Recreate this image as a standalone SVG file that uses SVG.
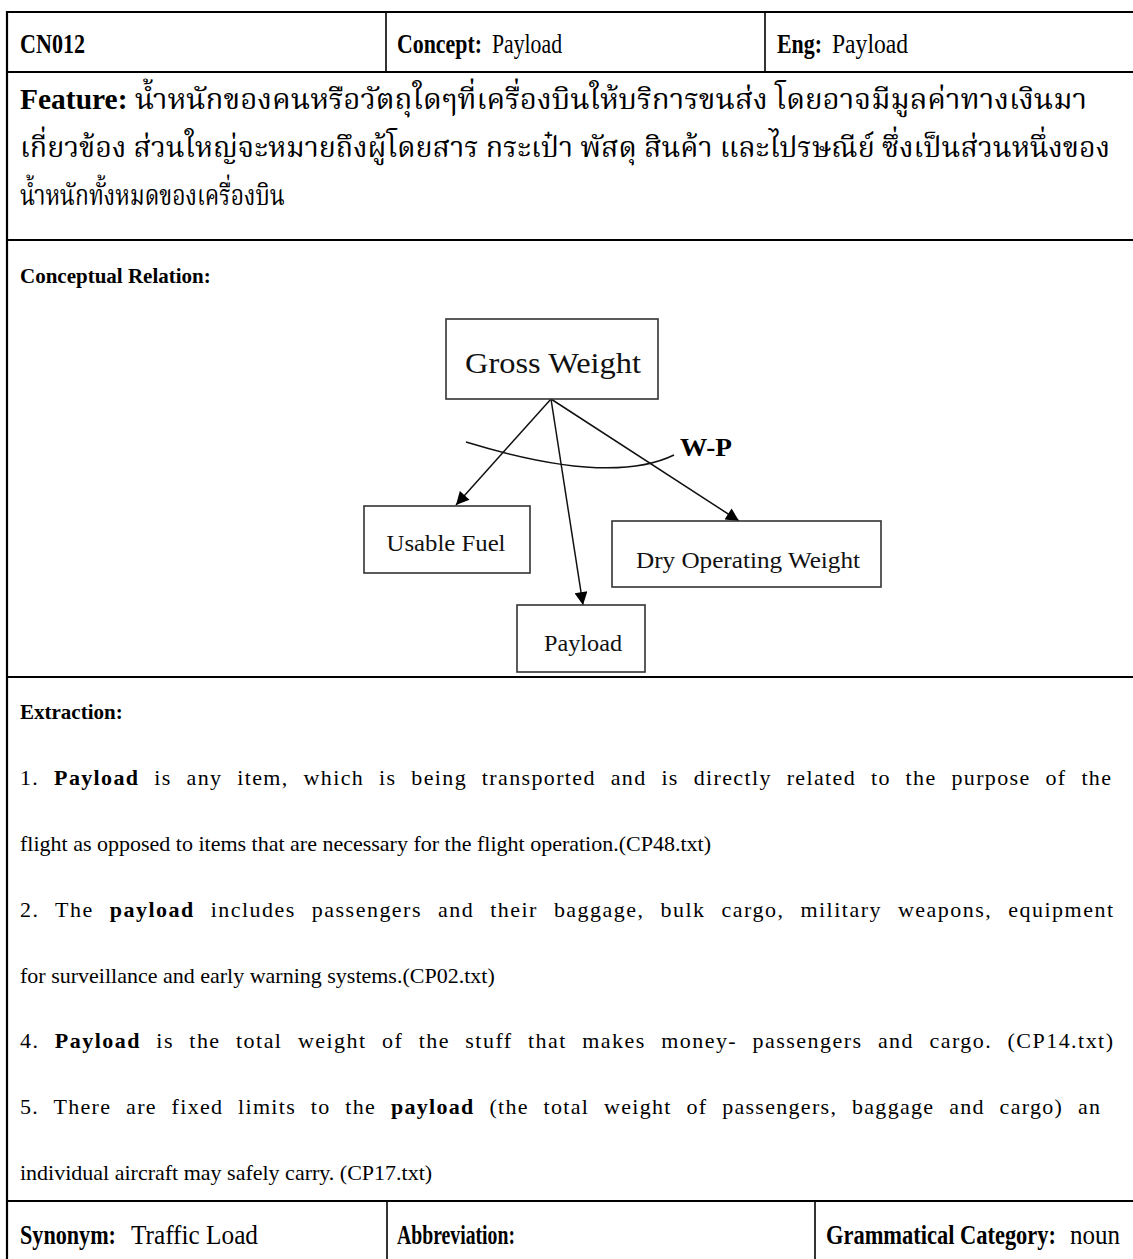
<svg xmlns="http://www.w3.org/2000/svg" width="1133" height="1259" viewBox="0 0 1133 1259">
  <defs>
    <marker id="arrowhead" viewBox="0 0 10 10" refX="10" refY="5" markerWidth="15" markerHeight="13" markerUnits="userSpaceOnUse" orient="auto">
      <path d="M0,0 L10,5 L0,10 z" fill="#000"/>
    </marker>
    <style>
      .grid { stroke: #000; stroke-width: 2.2; fill: none; }
      .divider { stroke: #000; stroke-width: 1.6; fill: none; }
      .head { font-family: "Liberation Serif", "Times New Roman", serif; font-size: 28px; fill: #000; }
      .thai { font-family: "Liberation Serif", "Noto Serif Thai", "Noto Sans Thai", serif; font-size: 29px; fill: #000; }
      .label { font-family: "Liberation Serif", "Times New Roman", serif; font-size: 21px; fill: #000; }
      .body { font-family: "Liberation Serif", "Times New Roman", serif; font-size: 22px; fill: #000; }
      .b { font-weight: bold; }
      .node rect { fill: #fff; stroke: #333; stroke-width: 1.6; }
      .node text { font-family: "Liberation Serif", "Times New Roman", serif; fill: #111; text-anchor: middle; }
      .edge { stroke: #111; stroke-width: 1.5; fill: none; }
    </style>
  </defs>

  <rect width="1133" height="1259" fill="#fff"/>

  <!-- table frame -->
  <g id="table">
    <line class="grid" x1="7" y1="12" x2="1140" y2="12"/>
    <line class="grid" x1="7" y1="11" x2="7" y2="1265"/>
    <line class="grid" x1="7" y1="72" x2="1140" y2="72"/>
    <line class="grid" x1="7" y1="240" x2="1140" y2="240"/>
    <line class="grid" x1="7" y1="677" x2="1140" y2="677"/>
    <line class="grid" x1="7" y1="1201" x2="1140" y2="1201"/>
    <line class="divider" x1="386" y1="12" x2="386" y2="72"/>
    <line class="divider" x1="765" y1="12" x2="765" y2="72"/>
    <line class="divider" x1="387" y1="1201" x2="387" y2="1265"/>
    <line class="divider" x1="815" y1="1201" x2="815" y2="1265"/>
  </g>

  <!-- header row -->
  <g id="header">
    <text class="head b" x="20" y="53" textLength="65" lengthAdjust="spacingAndGlyphs">CN012</text>
    <text class="head b" x="397" y="53" textLength="85" lengthAdjust="spacingAndGlyphs">Concept:</text>
    <text class="head" x="492" y="53" textLength="70" lengthAdjust="spacingAndGlyphs">Payload</text>
    <text class="head b" x="777" y="53" textLength="45" lengthAdjust="spacingAndGlyphs">Eng:</text>
    <text class="head" x="832" y="53" textLength="76" lengthAdjust="spacingAndGlyphs">Payload</text>
  </g>

  <!-- feature row -->
  <g id="feature">
    <text class="thai" x="20" y="109" textLength="1067" lengthAdjust="spacingAndGlyphs"><tspan class="b">Feature:</tspan> น้ำหนักของคนหรือวัตถุใดๆที่เครื่องบินให้บริการขนส่ง โดยอาจมีมูลค่าทางเงินมา</text>
    <text class="thai" x="20" y="157" textLength="1090" lengthAdjust="spacingAndGlyphs">เกี่ยวข้อง ส่วนใหญ่จะหมายถึงผู้โดยสาร กระเป๋า พัสดุ สินค้า และไปรษณีย์ ซึ่งเป็นส่วนหนึ่งของ</text>
    <text class="thai" x="20" y="205" textLength="265" lengthAdjust="spacingAndGlyphs">น้ำหนักทั้งหมดของเครื่องบิน</text>
  </g>

  <!-- conceptual relation -->
  <text class="label b" x="20" y="283">Conceptual Relation:</text>

  <g id="connectors">
    <path class="edge" d="M466,442 Q610,486 674,455"/>
    <line class="edge" x1="551" y1="399" x2="456" y2="505" marker-end="url(#arrowhead)"/>
    <line class="edge" x1="551" y1="399" x2="583" y2="605" marker-end="url(#arrowhead)"/>
    <line class="edge" x1="551" y1="399" x2="739" y2="521" marker-end="url(#arrowhead)"/>
    <text x="680" y="456" font-family="Liberation Serif, serif" font-weight="bold" font-size="25" fill="#000" textLength="52" lengthAdjust="spacingAndGlyphs">W-P</text>
  </g>

  <g id="node-gross-weight" class="node">
    <rect x="446" y="319" width="212" height="80"/>
    <text x="553" y="373" font-size="30" textLength="176" lengthAdjust="spacingAndGlyphs">Gross Weight</text>
  </g>
  <g id="node-usable-fuel" class="node">
    <rect x="364" y="506" width="166" height="67"/>
    <text x="446" y="551" font-size="24" textLength="119" lengthAdjust="spacingAndGlyphs">Usable Fuel</text>
  </g>
  <g id="node-payload" class="node">
    <rect x="517" y="605" width="128" height="67"/>
    <text x="583" y="651" font-size="24" textLength="78" lengthAdjust="spacingAndGlyphs">Payload</text>
  </g>
  <g id="node-dry-operating-weight" class="node">
    <rect x="612" y="521" width="269" height="66"/>
    <text x="748" y="568" font-size="24" textLength="224" lengthAdjust="spacingAndGlyphs">Dry Operating Weight</text>
  </g>

  <!-- extraction: justified lines get word spacing plus a little letter spacing -->
  <g id="extraction">
    <text class="label b" x="20" y="719">Extraction:</text>
    <text class="body" x="20" y="785" word-spacing="8" textLength="1091" lengthAdjust="spacing">1. <tspan class="b">Payload</tspan> is any item, which is being transported and is directly related to the purpose of the</text>
    <text class="body" x="20" y="851">flight as opposed to items that are necessary for the flight operation.(CP48.txt)</text>
    <text class="body" x="20" y="917" word-spacing="9" textLength="1093" lengthAdjust="spacing">2. The <tspan class="b">payload</tspan> includes passengers and their baggage, bulk cargo, military weapons, equipment</text>
    <text class="body" x="20" y="983">for surveillance and early warning systems.(CP02.txt)</text>
    <text class="body" x="20" y="1048" word-spacing="8.5" textLength="1093" lengthAdjust="spacing">4. <tspan class="b">Payload</tspan> is the total weight of the stuff that makes money- passengers and cargo. (CP14.txt)</text>
    <text class="body" x="20" y="1114" word-spacing="8" textLength="1080" lengthAdjust="spacing">5. There are fixed limits to the <tspan class="b">payload</tspan> (the total weight of passengers, baggage and cargo) an</text>
    <text class="body" x="20" y="1180">individual aircraft may safely carry. (CP17.txt)</text>
  </g>

  <!-- bottom row -->
  <g id="footer">
    <text class="head b" x="20" y="1244" textLength="96" lengthAdjust="spacingAndGlyphs">Synonym:</text>
    <text class="head" x="131" y="1244" textLength="127" lengthAdjust="spacingAndGlyphs">Traffic Load</text>
    <text class="head b" x="397" y="1244" textLength="118" lengthAdjust="spacingAndGlyphs">Abbreviation:</text>
    <text class="head b" x="826" y="1244" textLength="230" lengthAdjust="spacingAndGlyphs">Grammatical Category:</text>
    <text class="head" x="1070" y="1244" textLength="50" lengthAdjust="spacingAndGlyphs">noun</text>
  </g>
</svg>
